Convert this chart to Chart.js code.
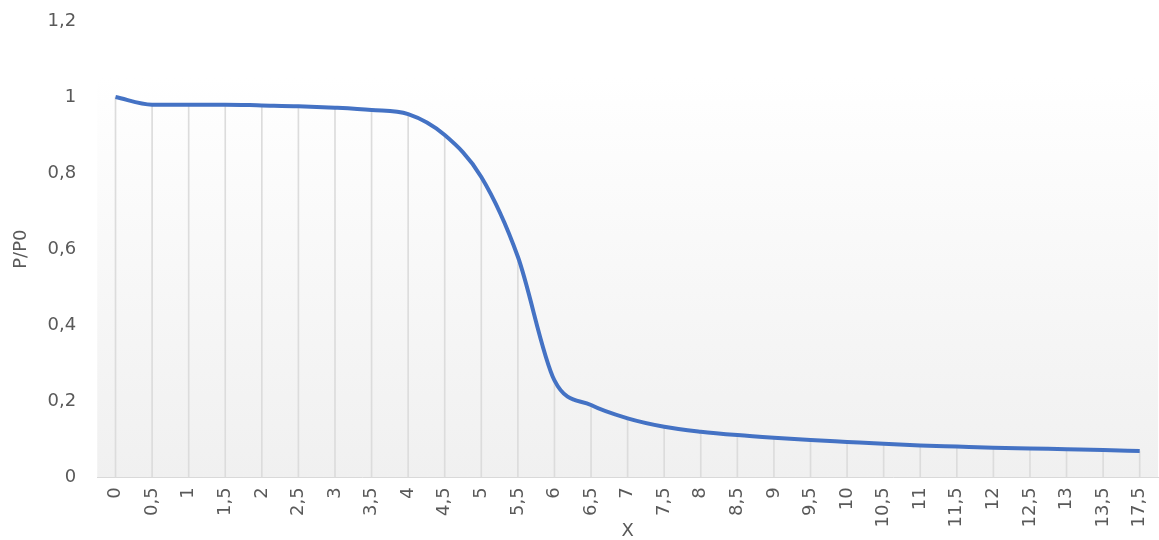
<!DOCTYPE html>
<html>
<head>
<meta charset="utf-8">
<script src="https://cdn.jsdelivr.net/npm/chart.js@4.4.1/dist/chart.umd.min.js"></script>
<style>
  html, body { margin: 0; padding: 0; background: #fff; }
  #wrap { width: 1159px; height: 540px; position: relative; }
</style>
</head>
<body>
<div id="wrap"><canvas id="pressureChart"></canvas></div>
<script>
// --- data ---
const xLabels = ['0', '0,5', '1', '1,5', '2', '2,5', '3', '3,5', '4', '4,5', '5', '5,5', '6', '6,5',
    '7', '7,5', '8', '8,5', '9', '9,5', '10', '10,5', '11', '11,5', '12', '12,5', '13', '13,5', '17,5'];
const ratioValues = [1.0, 0.98, 0.98, 0.98, 0.978, 0.976, 0.972, 0.966, 0.955, 0.9, 0.79, 0.58, 0.255, 0.19,
    0.155, 0.133, 0.12, 0.111, 0.104, 0.098, 0.093, 0.088, 0.084, 0.081, 0.078, 0.076, 0.074, 0.072, 0.069];
const yTicks = [0, 0.2, 0.4, 0.6, 0.8, 1, 1.2];

const textColor = '#595959';
const fontFamily = '"DejaVu Sans", sans-serif';

// soft grey gradient behind the plot, like the spreadsheet style
const plotBackground = {
    id: 'plotBackground',
    beforeDraw(chart) {
        const { ctx, chartArea } = chart;
        const top = chartArea.top + 55;
        const grad = ctx.createLinearGradient(0, top, 0, chartArea.bottom);
        grad.addColorStop(0, '#ffffff');
        grad.addColorStop(1, '#f0f0f0');
        ctx.save();
        ctx.fillStyle = grad;
        ctx.fillRect(chartArea.left, top, chartArea.right - chartArea.left, chartArea.bottom - top);
        ctx.restore();
    }
};

document.addEventListener('DOMContentLoaded', function() {
    const ctx = document.getElementById('pressureChart').getContext('2d');
    new Chart(ctx, {
        data: {
            labels: xLabels,
            datasets: [{
                type: 'line',
                data: ratioValues,
                borderColor: '#4472C4',
                borderWidth: 4,
                pointRadius: 0,
                cubicInterpolationMode: 'monotone',
                fill: false,
                order: 0
            }, {
                // drop lines from each point down to the axis
                type: 'bar',
                data: ratioValues,
                backgroundColor: '#dcdcdc',
                barThickness: 1,
                order: 1
            }]
        },
        options: {
            responsive: true,
            maintainAspectRatio: false,
            animation: false,
            layout: { padding: { top: 21, right: 1, bottom: 0, left: 11 } },
            plugins: {
                legend: { display: false },
                tooltip: { enabled: false }
            },
            scales: {
                x: {
                    offset: true,
                    afterFit: function(axis) {
                        axis.paddingLeft = 0;
                        axis.paddingRight = 0;
                    },
                    grid: { display: false, drawTicks: false },
                    border: { display: true, color: '#d9d9d9', width: 1 },
                    ticks: {
                        color: textColor,
                        font: { family: fontFamily, size: 18 },
                        minRotation: 90,
                        maxRotation: 90,
                        autoSkip: false,
                        padding: 10
                    },
                    title: {
                        display: true,
                        text: 'X',
                        color: textColor,
                        font: { family: fontFamily, size: 18 },
                        padding: { top: -17, bottom: -2 }
                    }
                },
                y: {
                    min: 0,
                    max: 1.2,
                    afterBuildTicks: function(axis) {
                        axis.ticks = yTicks.map(function(v) { return { value: v }; });
                    },
                    afterFit: function(axis) {
                        axis.paddingTop = 0;
                        axis.paddingBottom = 0;
                    },
                    grid: { display: false, drawTicks: false },
                    border: { display: false },
                    ticks: {
                        color: textColor,
                        font: { family: fontFamily, size: 18 },
                        padding: 21,
                        callback: function(value) {
                            return String(Math.round(value * 10) / 10).replace('.', ',');
                        }
                    },
                    title: {
                        display: true,
                        text: 'P/P0',
                        color: textColor,
                        font: { family: fontFamily, size: 18 },
                        padding: { top: 0, bottom: -6 }
                    }
                }
            }
        },
        plugins: [plotBackground]
    });
});
</script>
</body>
</html>
